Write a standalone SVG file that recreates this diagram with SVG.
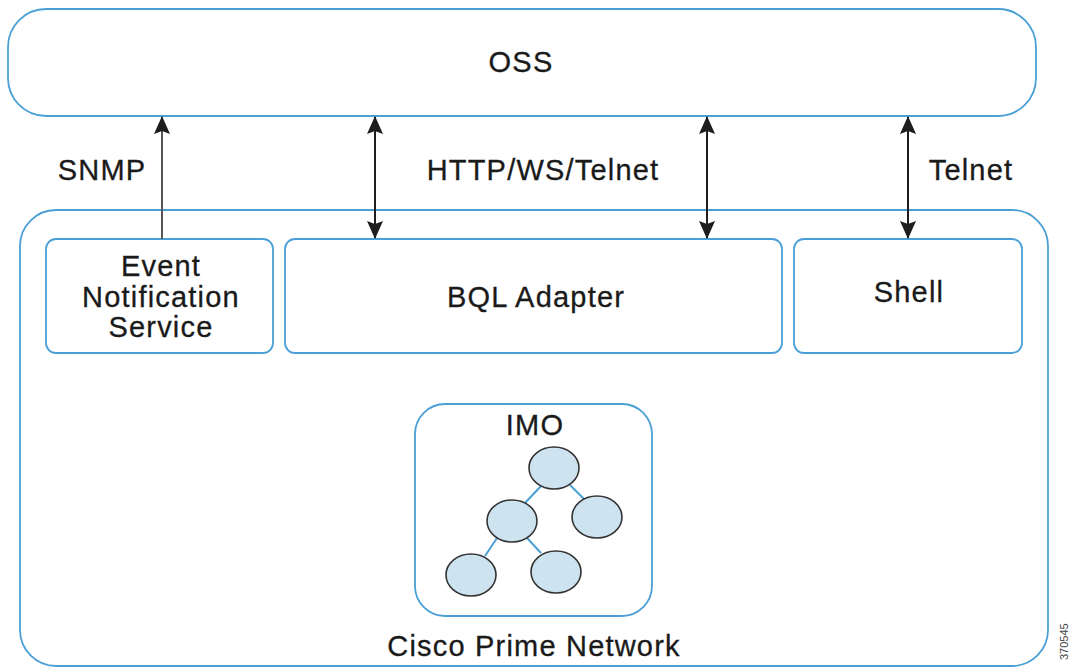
<svg xmlns="http://www.w3.org/2000/svg" width="1071" height="668" viewBox="0 0 1071 668">
<style>
.box{fill:#fff;stroke:#4a9fd6;stroke-width:1.8}
.t{font-family:"Liberation Sans",Arial,sans-serif;font-size:29px;letter-spacing:1.2px;fill:#1a1a1a;stroke:#1a1a1a;stroke-width:0.3;text-anchor:middle}
.lbl{font-family:"Liberation Sans",Arial,sans-serif;font-size:29px;letter-spacing:1.2px;fill:#1a1a1a;stroke:#1a1a1a;stroke-width:0.3;text-anchor:middle}
.arr{stroke:#1e1e1e;stroke-width:2;fill:none}
.tree{fill:#cde3f0;stroke:#333;stroke-width:1.6}
.edge{stroke:#4a9fd6;stroke-width:2}
</style>
<defs>
<marker id="ah" viewBox="0 0 18 16" markerUnits="userSpaceOnUse" markerWidth="18" markerHeight="16" refX="17" refY="8" orient="auto-start-reverse">
<path d="M0,0 L18,8 L0,16 L3,8 z" fill="#1e1e1e"/>
</marker>
</defs>
<rect width="1071" height="668" fill="#fff"/>
<g id="oss">
<rect class="box" x="8" y="9" width="1028" height="107" rx="38"/>
<text class="t" x="521" y="72">OSS</text>
</g>
<g id="cisco-prime-network">
<rect class="box" x="20" y="210" width="1028" height="456" rx="36"/>
<text class="t" x="534" y="656">Cisco Prime Network</text>
</g>
<g id="event-notification-service">
<rect class="box" x="46" y="239" width="227" height="114" rx="10"/>
<text class="t" x="161" y="276">Event</text>
<text class="t" x="161" y="307">Notification</text>
<text class="t" x="161" y="337">Service</text>
</g>
<g id="bql-adapter">
<rect class="box" x="285" y="239" width="497" height="114" rx="10"/>
<text class="t" x="536" y="307">BQL Adapter</text>
</g>
<g id="shell">
<rect class="box" x="794" y="239" width="228" height="114" rx="10"/>
<text class="t" x="909" y="302">Shell</text>
</g>
<g id="imo">
<rect class="box" x="415" y="404" width="237" height="212" rx="30"/>
<text class="t" x="535" y="435">IMO</text>
<line class="edge" x1="541" y1="486" x2="525" y2="503"/>
<line class="edge" x1="570" y1="485" x2="585" y2="500"/>
<line class="edge" x1="497" y1="538" x2="485" y2="556"/>
<line class="edge" x1="527" y1="538" x2="541" y2="553"/>
<ellipse class="tree" cx="554" cy="468" rx="25" ry="21"/>
<ellipse class="tree" cx="597" cy="517" rx="25" ry="21"/>
<ellipse class="tree" cx="512" cy="521" rx="25" ry="21"/>
<ellipse class="tree" cx="471" cy="575" rx="25" ry="21"/>
<ellipse class="tree" cx="556" cy="572" rx="25" ry="21"/>
</g>
<g id="connectors">
<line class="arr" x1="162" y1="239" x2="162" y2="117" marker-end="url(#ah)" style="stroke:#555"/>
<line class="arr" x1="375" y1="117" x2="375" y2="238" marker-start="url(#ah)" marker-end="url(#ah)"/>
<line class="arr" x1="707" y1="117" x2="707" y2="238" marker-start="url(#ah)" marker-end="url(#ah)"/>
<line class="arr" x1="908" y1="117" x2="908" y2="238" marker-start="url(#ah)" marker-end="url(#ah)"/>
<text class="lbl" x="102" y="180">SNMP</text>
<text class="lbl" x="543" y="180">HTTP/WS/Telnet</text>
<text class="lbl" x="971" y="180">Telnet</text>
</g>
<text x="0" y="0" transform="translate(1068,660) rotate(-90)" style="font-family:'Liberation Sans',Arial,sans-serif;font-size:11px;fill:#444">370545</text>
</svg>
